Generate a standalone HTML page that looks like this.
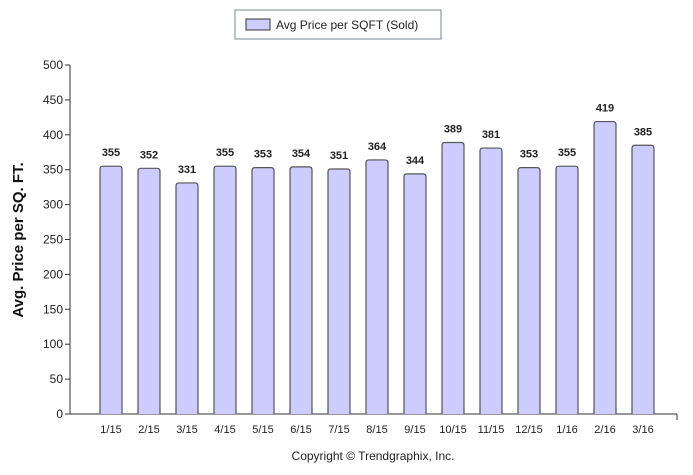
<!DOCTYPE html>
<html><head><style>
body{margin:0;background:#fff;}
svg text{font-family:"Liberation Sans",sans-serif;}
</style></head><body>
<svg id="c" width="693" height="470">
<g>
<rect x="235" y="10" width="206" height="29" fill="#fff" stroke="#7a8599" stroke-width="1"/>
<rect x="246" y="19" width="24" height="11" fill="#ccccff" stroke="#333"/>
<text x="276" y="29" font-size="12" fill="#222">Avg Price per SQFT (Sold)</text>
</g>
<text transform="translate(23,240) rotate(-90)" text-anchor="middle" font-size="15" font-weight="bold" fill="#111">Avg. Price per SQ. FT.</text>
<text x="373" y="460" text-anchor="middle" font-size="12" fill="#222">Copyright © Trendgraphix, Inc.</text>
<g id="axes"></g><g id="bars"></g>
</svg>
<script>
const categories=["1/15","2/15","3/15","4/15","5/15","6/15","7/15","8/15","9/15","10/15","11/15","12/15","1/16","2/16","3/16"];
const values=[355,352,331,355,353,354,351,364,344,389,381,353,355,419,385];
const yTicks=[0,50,100,150,200,250,300,350,400,450,500];
const NS="http://www.w3.org/2000/svg";
const y0=414,y1=65,yMax=500,x0=70,x1=677,slot=38,first=111,bw=22;
const y=v=>y0-(v/yMax)*(y0-y1);
const x=i=>first+i*slot;
function mk(t,a,p){const e=document.createElementNS(NS,t);for(const k in a)e.setAttribute(k,a[k]);p.appendChild(e);return e;}
const ax=document.getElementById('axes'),bs=document.getElementById('bars');
let l=mk('line',{x1:x0,y1:y1,x2:x0,y2:y0,stroke:'#333'},ax);


l=mk('line',{x1:x0,y1:y0,x2:x1,y2:y0,stroke:'#333'},ax);


mk('line',{x1:x1,y1:y0,x2:x1,y2:y0+6,stroke:'#333'},ax);
yTicks.forEach(v=>{
 mk('line',{x1:x0-5,y1:y(v),x2:x0,y2:y(v),stroke:'#333'},ax);
 const t=mk('text',{x:x0-7,y:y(v)+4,'text-anchor':'end','font-size':12,fill:'#222'},ax);
 t.textContent=v;
 
 
});
categories.forEach((c,i)=>{
 const cx=x(i),top=y(values[i]);
 const b=mk('path',{d:`M${cx-bw/2},${y0} V${top+3} Q${cx-bw/2},${top} ${cx-bw/2+3},${top} H${cx+bw/2-3} Q${cx+bw/2},${top} ${cx+bw/2},${top+3} V${y0}`,fill:'#ccccff',stroke:'#555','stroke-width':1.2},bs);
 
 
 const v=mk('text',{x:cx,y:top-10,'text-anchor':'middle','font-size':11,'font-weight':'bold',fill:'#222'},bs);
 v.textContent=values[i];
 
 
 const t=mk('text',{x:cx,y:y0+19,'text-anchor':'middle','font-size':11,fill:'#222'},bs);
 t.textContent=c;
 
 
});
</script>
</body></html>
